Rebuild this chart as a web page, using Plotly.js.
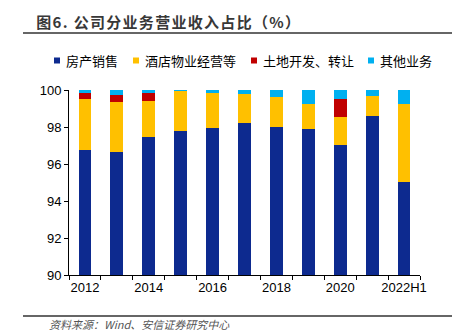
<!DOCTYPE html>
<html><head><meta charset="utf-8">
<script src="https://cdn.plot.ly/plotly-3.0.1.min.js"></script>
<style>html,body{margin:0;padding:0;background:#fff}#chart{width:462px;height:332px}
g.annotation[data-index="0"] text{letter-spacing:1.3px}</style>
</head><body><div id="chart"></div>
<script>
const categories = ['2012','2013','2014','2015','2016','2017','2018','2019','2020','2021','2022H1'];
const tickLabels = ['2012','','2014','','2016','','2018','','2020','','2022H1'];
const propertySales = [96.76, 96.64, 97.47, 97.76, 97.95, 98.22, 98.02, 97.89, 97.04, 98.62, 95.04];
const hotelOps      = [2.77, 2.71, 1.93, 2.19, 1.87, 1.54, 1.60, 1.38, 1.51, 1.05, 4.23];
const landDev       = [0.32, 0.38, 0.45, 0.00, 0.00, 0.00, 0.00, 0.00, 0.94, 0.00, 0.00];
const otherBiz      = [0.15, 0.27, 0.15, 0.05, 0.18, 0.24, 0.38, 0.73, 0.51, 0.33, 0.73];
const seriesNames = ['房产销售', '酒店物业经营等', '土地开发、转让', '其他业务'];
const seriesColors = ['#0D2A8F', '#FFC000', '#C00000', '#00B0F0'];
const seriesData = [propertySales, hotelOps, landDev, otherBiz];

// plot area in pixels: x 69..420, y 90..275
const L = 69, W = 351, B = 275, H = 185;
const px = x => (x - L) / W;
const py = y => (B - y) / H;

const cjk = '"Noto Sans CJK SC", "Noto Sans", sans-serif';
const traces = seriesData.map((d, i) => ({type: 'bar', x: categories, y: d, name: seriesNames[i],
  marker: {color: seriesColors[i], line: {width: 0}}, showlegend: false, hoverinfo: 'skip'}));

// legend (drawn as shapes + annotations)
const legendTextX = [64, 143, 261, 378];
const legendY = 60.5;
const shapes = [
  {type: 'line', xref: 'paper', yref: 'paper', x0: px(23), x1: px(452), y0: py(33), y1: py(33), line: {color: '#333', width: 1.5}},
  {type: 'line', xref: 'paper', yref: 'paper', x0: px(23), x1: px(452), y0: py(316), y1: py(316), line: {color: '#333', width: 1.5}}
];
const annotations = [
  {text: '<b>图6. 公司分业务营业收入占比（%）</b>', xref: 'paper', yref: 'paper',
    x: px(46), y: py(21), xanchor: 'left', yanchor: 'middle', showarrow: false,
    font: {family: cjk, size: 15, color: '#383838'}},
  {text: '<i>资料来源：Wind、安信证券研究中心</i>', xref: 'paper', yref: 'paper',
    x: px(47), y: py(324), xanchor: 'left', yanchor: 'middle', showarrow: false,
    font: {family: cjk, size: 11, color: '#555'}}
];
seriesNames.forEach((n, i) => {
  const tx = legendTextX[i];
  shapes.push({type: 'rect', xref: 'paper', yref: 'paper', x0: px(tx - 10), x1: px(tx - 4),
    y0: py(legendY + 3), y1: py(legendY - 3), fillcolor: seriesColors[i], line: {width: 0}});
  annotations.push({text: n, xref: 'paper', yref: 'paper', x: px(tx), y: py(legendY),
    xanchor: 'left', yanchor: 'middle', showarrow: false, font: {family: cjk, size: 13, color: '#000'}});
});

const layout = {
  width: 462, height: 332,
  margin: {l: L, r: 462 - L - W, t: B - H, b: 332 - B},
  paper_bgcolor: '#fff', plot_bgcolor: '#fff',
  barmode: 'stack', bargap: 0.6, showlegend: false,
  font: {family: '"Liberation Sans", Arial, sans-serif', size: 13, color: '#000'},
  xaxis: {type: 'category', tickvals: categories, ticktext: tickLabels, tickson: 'boundaries', tickangle: 0,
    ticks: 'outside', ticklen: 4, tickcolor: '#000', showline: true, linecolor: '#000', linewidth: 1,
    tickfont: {size: 13, color: '#000'}, showgrid: false, zeroline: false},
  yaxis: {range: [90, 100], tickvals: [90, 92, 94, 96, 98, 100], ticks: 'outside', ticklen: 4,
    tickcolor: '#000', showline: true, linecolor: '#000', linewidth: 1, showgrid: false, zeroline: false,
    tickfont: {size: 13, color: '#000'}},
  shapes: shapes,
  annotations: annotations
};
Plotly.newPlot('chart', traces, layout, {displayModeBar: false, staticPlot: true});
</script></body></html>
